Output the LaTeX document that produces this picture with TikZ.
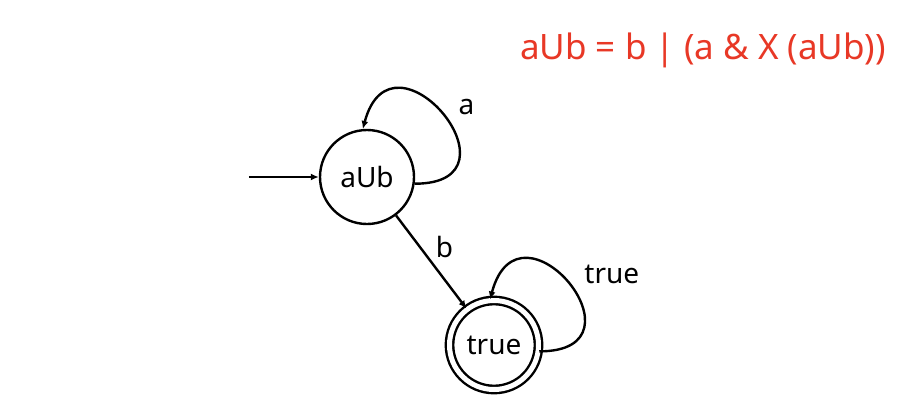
\documentclass[tikz,border=0pt]{standalone}
\usepackage{fontspec}
\setmainfont{Noto Sans}
\usetikzlibrary{automata,positioning,arrows.meta}
\definecolor{formulared}{RGB}{232,56,38}

\begin{document}
\begin{tikzpicture}[x=1pt,y=1pt,line width=2.4pt,node distance=2cm,on grid,auto,
    >={Latex[length=8pt,width=7pt]},
    every state/.style={draw,line width=2.4pt,minimum size=94pt,inner sep=0pt},
    every edge/.append style={line width=2.4pt},
    every initial by arrow/.style={line width=2.4pt},
    accepting/.style={double,double distance=5pt,line width=2.4pt,minimum size=89pt},
    selfloop/.style={out=0,in=75,distance=115pt},
    looplabel/.style={swap,pos=0.47,xshift=7pt},
    initial text={},initial distance=70pt,
    font=\fontsize{28}{32}\selectfont]
    \useasboundingbox (0,0) rectangle (904,-404);
    \node[state,initial] (aUb)                                    at (367,-177) {aUb};
    \node[state,accepting] (true) [below right=168pt and 127pt of aUb] {true};
    \node[text=formulared,font=\fontsize{35}{40}\selectfont] (formula) at (703,-50) {aUb = b | (a \& X (aUb))};
    \path[->]
    (aUb.-8)  edge [selfloop] node [looplabel] {a} (aUb.95)
    (aUb)     edge node {b} (true)
    (true.-8) edge [selfloop] node [looplabel] {true} (true.95);
\end{tikzpicture}
\end{document}
